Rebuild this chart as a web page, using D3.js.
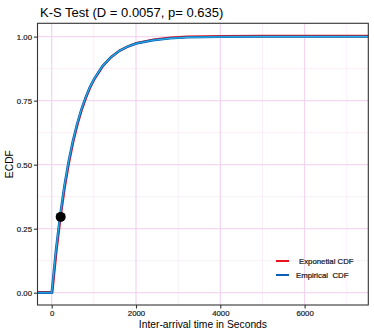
<!DOCTYPE html>
<html lang="en">
<head>
<meta charset="utf-8">
<script src="https://cdn.jsdelivr.net/npm/d3@7"></script>
<style type="text/css">
body {
	margin: 0;
	font-family: "Liberation Sans", Arial, sans-serif;
	background: white;
}
</style>
</head>
<body>
<script type="text/javascript">

// values
var timeSec  = [-400, 0, 100, 200, 300, 400, 500, 600, 700, 800, 900, 1000, 1200, 1400, 1600, 1800, 2000, 2400, 2800, 3200, 3600, 4000, 5000, 6000, 7600];
var expCdf   = [0, 0, 0.164, 0.300, 0.415, 0.510, 0.590, 0.657, 0.713, 0.760, 0.800, 0.832, 0.883, 0.918, 0.943, 0.960, 0.972, 0.986, 0.993, 0.997, 0.998, 0.999, 1.000, 1.000, 1.000];
var empCdf   = [0, 0, 0.166, 0.302, 0.417, 0.512, 0.591, 0.658, 0.714, 0.761, 0.801, 0.833, 0.884, 0.919, 0.944, 0.961, 0.973, 0.986, 0.993, 0.997, 0.998, 0.999, 1.000, 1.000, 1.000];
var markPoint = {x: 213, y: 0.296};
var xTicks = [0, 2000, 4000, 6000];
var yTicks = [0, 0.25, 0.5, 0.75, 1];
var legendLabels = ["Exponetial CDF", "Empirical  CDF"];
var legendColors = ["#e8141c", "#0a5fb5"];

var width = 374, height = 332;
var pLeft = 37.5, pRight = 368.3, pTop = 23.3, pBottom = 305;

var svg = d3.select("body").append("svg")
	.attr("width", width)
	.attr("height", height);

var x = d3.scaleLinear().domain([-337, 7511]).range([pLeft, pRight]);
var y = d3.scaleLinear().domain([-0.048, 1.052]).range([pBottom, pTop]);

var panel = svg.append("g");
panel.append("clipPath").attr("id", "clip")
	.append("rect").attr("x", pLeft).attr("y", pTop).attr("width", pRight - pLeft).attr("height", pBottom - pTop);

// minor grid
var xMinor = [1000, 3000, 5000, 7000];
var yMinor = [0.125, 0.375, 0.625, 0.875];
panel.selectAll(".xmin").data(xMinor).enter().append("line")
	.attr("x1", d => x(d)).attr("x2", d => x(d)).attr("y1", pTop).attr("y2", pBottom)
	.style("stroke", "#fbeefa").style("stroke-width", 1);
panel.selectAll(".ymin").data(yMinor).enter().append("line")
	.attr("y1", d => y(d)).attr("y2", d => y(d)).attr("x1", pLeft).attr("x2", pRight)
	.style("stroke", "#fbeefa").style("stroke-width", 1);

// major grid
panel.selectAll(".xmaj").data(xTicks).enter().append("line")
	.attr("x1", d => x(d)).attr("x2", d => x(d)).attr("y1", pTop).attr("y2", pBottom)
	.style("stroke", "#f3d6f0").style("stroke-width", 1.3);
panel.selectAll(".ymaj").data(yTicks).enter().append("line")
	.attr("y1", d => y(d)).attr("y2", d => y(d)).attr("x1", pLeft).attr("x2", pRight)
	.style("stroke", "#f3d6f0").style("stroke-width", 1.3);

// curves
var line = d3.line().x(d => x(d[0])).y(d => y(d[1]));
var expData = timeSec.map((t, i) => [t, expCdf[i]]);
var empData = timeSec.map((t, i) => [t, empCdf[i]]);

var curves = svg.append("g").attr("clip-path", "url(#clip)");
curves.append("path").datum(expData).attr("d", line)
	.attr("transform", "translate(0.6,-0.6)")
	.style("fill", "none").style("stroke", legendColors[0]).style("stroke-width", 2.4);
curves.append("path").datum(empData).attr("d", line)
	.style("fill", "none").style("stroke", legendColors[1]).style("stroke-width", 2.4);
curves.append("path").datum(empData).attr("d", line)
	.style("fill", "none").style("stroke", "#27b0e6").style("stroke-width", 1.1);

svg.append("circle")
	.attr("cx", x(markPoint.x)).attr("cy", y(markPoint.y)).attr("r", 5)
	.style("fill", "black");

// panel border
svg.append("rect")
	.attr("x", pLeft).attr("y", pTop).attr("width", pRight - pLeft).attr("height", pBottom - pTop)
	.style("fill", "none").style("stroke", "#333").style("stroke-width", 1.1);

// axes
var xAxis = svg.append("g").attr("transform", "translate(0," + pBottom + ")")
	.call(d3.axisBottom(x).tickValues(xTicks).tickSize(3.5).tickPadding(2).tickFormat(d3.format("d")));
var yAxis = svg.append("g").attr("transform", "translate(" + pLeft + ",0)")
	.call(d3.axisLeft(y).tickValues(yTicks).tickSize(3.5).tickPadding(2).tickFormat(d3.format(".2f")));
[xAxis, yAxis].forEach(function(a) {
	a.select(".domain").remove();
	a.selectAll(".tick line").style("stroke", "#333").style("stroke-width", 1.1);
	a.selectAll(".tick text").style("fill", "#222").style("font-size", "7.8px")
		.style("stroke", "#222").style("stroke-width", 0.2)
		.style("font-family", "'Liberation Sans', Arial, sans-serif");
});

// titles
svg.append("text").attr("x", 40).attr("y", 17)
	.style("font-size", "13px").style("fill", "#000")
	.text("K-S Test (D = 0.0057, p= 0.635)");
svg.append("text").attr("x", (pLeft + pRight) / 2).attr("y", 328)
	.attr("text-anchor", "middle")
	.style("font-size", "10.3px").style("fill", "#000")
	.text("Inter-arrival time in Seconds");
svg.append("text")
	.attr("transform", "translate(13," + ((pTop + pBottom) / 2) + ") rotate(-90)")
	.attr("text-anchor", "middle")
	.style("font-size", "10.3px").style("fill", "#000")
	.text("ECDF");

// legend
var legend = svg.append("g").attr("transform", "translate(276,261)");
var items = legend.selectAll("g").data(legendLabels).enter().append("g")
	.attr("transform", (d, i) => "translate(0," + (i * 14) + ")");
items.append("line").attr("x1", 0).attr("x2", 13).attr("y1", 0).attr("y2", 0)
	.style("stroke", (d, i) => legendColors[i]).style("stroke-width", 2);
items.append("text").attr("x", (d, i) => i == 0 ? 23 : 20).attr("y", 3)
	.style("font-size", "7.8px").style("fill", "#111").style("white-space", "pre")
	.style("stroke", "#111").style("stroke-width", 0.2)
	.text(d => d);

</script>
</body>
</html>
